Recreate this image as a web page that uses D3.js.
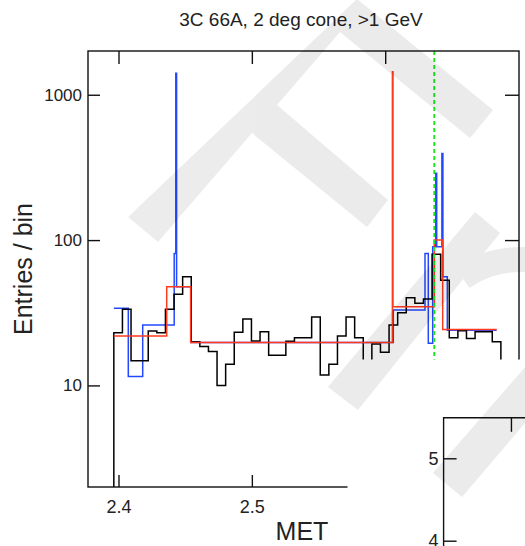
<!DOCTYPE html>
<html>
<head>
<meta charset="utf-8">
<script src="https://cdn.jsdelivr.net/npm/d3@7/dist/d3.min.js"></script>
<style>
  html, body { margin: 0; padding: 0; background: #fff; }
  svg { display: block; }
  text { font-family: "Liberation Sans", Arial, Helvetica, sans-serif; fill: #222; }
</style>
</head>
<body>
<svg id="chart" width="525" height="546"></svg>
<script>
// ---- data ------------------------------------------------------------
// Uniform MET binning of the counts histogram (black)
const binStart = 2.3965;
const binWidth = 0.00645;
const counts = [23.0, 33.4, 14.8, 14.8, 23.7, 23.0, 33.4, 42.4, 56, 20.0,
                18.5, 17.1, 10.0, 14.0, 23.2, 28.6, 20.2, 23.4, 16.1, 16.1,
                20.1, 21.3, 21.3, 29.6, 11.8, 14.0, 21.9, 29.6, 21.3, 11,
                19.3, 16.9, 26.0, 31.6, 40.1, 36.7, 39.3, 80, 53, 21.3,
                23.8, 21.0, 23.4, 23.4, 20.0];

// Block representation (blue): block edges in MET and level per block
const blueEdges = [2.3965, 2.40735, 2.41815, 2.44177, 2.44297, 2.44357, 2.45414,
                   2.60607, 2.62985, 2.63232, 2.63562, 2.63787, 2.63862, 2.64252,
                   2.64327, 2.64657, 2.68361];
const blueValues = [33.9, 11.5, 26.0, 81, 1405, 47.8, 19.7, 33.0, 81, 19.5,
                    90, 288, 90, 395, 56, 24.0];

// Block representation (red)
const redEdges = [2.3965, 2.43615, 2.45414, 2.60540, 2.60585, 2.63682, 2.64312, 2.68361];
const redValues = [21.9, 47.8, 19.7, 1440, 34.8, 100, 24.3];

// Reference time marker (green dashed)
const markerMET = 2.6368;

// Axis ticks
const xTicks = [2.4, 2.5, 2.6];
const yTicks = [10, 100, 1000];
const insetYTicks = [4, 5];
const insetXTicks = [0];

const titleText = "3C 66A, 2 deg cone, >1 GeV";
const xLabel = "MET";
const yLabel = "Entries / bin";

// ---- layout ----------------------------------------------------------
const svg = d3.select("#chart");
const frame = { left: 88, top: 51, right: 519, bottom: 487 };

const x = d3.scaleLinear().domain([2.37713, 2.70034]).range([frame.left, frame.right]);
const y = d3.scaleLog().domain([2, 2000]).range([frame.bottom, frame.top]);
const yFloor = y.domain()[0];

const FONT = '"Liberation Sans", Arial, Helvetica, sans-serif';
const stepLine = d3.line().x(d => x(d[0])).y(d => y(d[1])).curve(d3.curveStepAfter);

function blockPoints(edges, values) {
  const pts = values.map((v, i) => [edges[i], v]);
  pts.push([edges[edges.length - 1], values[values.length - 1]]);
  return pts;
}
function histPoints(start, width, vals) {
  const pts = [[start, yFloor]];
  vals.forEach((v, i) => pts.push([start + i * width, v]));
  const end = start + vals.length * width;
  pts.push([end, vals[vals.length - 1]]);
  pts.push([end, yFloor]);
  return pts;
}

const plot = svg.append("g");

plot.append("path")
  .attr("d", stepLine(blockPoints(blueEdges, blueValues)))
  .attr("fill", "none").attr("stroke", "#2448ff").attr("stroke-width", 1.5);

plot.append("path")
  .attr("d", stepLine(histPoints(binStart, binWidth, counts)))
  .attr("fill", "none").attr("stroke", "#000").attr("stroke-width", 1.5);

plot.append("path")
  .attr("d", stepLine(blockPoints(redEdges, redValues)))
  .attr("fill", "none").attr("stroke", "#ff3a1e").attr("stroke-width", 1.5);

plot.append("line")
  .attr("x1", x(markerMET)).attr("x2", x(markerMET))
  .attr("y1", frame.top).attr("y2", frame.bottom)
  .attr("stroke", "#1ee61e").attr("stroke-width", 1.9)
  .attr("stroke-dasharray", "4,3");

// frame
plot.append("rect")
  .attr("x", frame.left).attr("y", frame.top)
  .attr("width", frame.right - frame.left).attr("height", frame.bottom - frame.top)
  .attr("fill", "none").attr("stroke", "#111").attr("stroke-width", 1.4);

function styleAxis(g, size) {
  g.select(".domain").remove();
  g.selectAll(".tick line").attr("stroke", "#111").attr("stroke-width", 1.4);
  g.selectAll("text").attr("font-family", FONT).attr("font-size", size).attr("fill", "#222");
  g.attr("font-family", null).attr("font-size", null);
}

plot.append("g")
  .attr("transform", `translate(${frame.left},0)`)
  .call(d3.axisLeft(y).tickValues(yTicks).tickSize(-12).tickPadding(6).tickFormat(d3.format("d")))
  .call(g => styleAxis(g, 17));

plot.append("g")
  .attr("transform", `translate(${frame.right},0)`)
  .call(d3.axisRight(y).tickValues(yTicks).tickSize(-14).tickFormat(""))
  .call(g => styleAxis(g, 17));

plot.append("g")
  .attr("transform", `translate(0,${frame.bottom})`)
  .call(d3.axisBottom(x).tickValues(xTicks).tickSize(-12).tickPadding(13).tickFormat(d3.format(".1f")))
  .call(g => styleAxis(g, 18));

plot.append("g")
  .attr("transform", `translate(0,${frame.top})`)
  .call(d3.axisTop(x).tickValues(xTicks).tickSize(-13).tickFormat(""))
  .call(g => styleAxis(g, 18));

// titles
svg.append("text")
  .attr("x", 301).attr("y", 26).attr("text-anchor", "middle")
  .attr("font-size", 19).text(titleText);

svg.append("text")
  .attr("x", 302).attr("y", 540).attr("text-anchor", "middle")
  .attr("font-size", 25).text(xLabel);

svg.append("text")
  .attr("transform", "translate(31.5,269) rotate(-90)")
  .attr("text-anchor", "middle")
  .attr("font-size", 25).text(yLabel);

// ---- overlapping lower-right panel -----------------------------------
svg.append("rect")
  .attr("x", 347.5).attr("y", 359.5).attr("width", 200).attr("height", 200)
  .attr("fill", "#fff");

const inset = { left: 443.6, top: 417.8 };
const insetY = d3.scaleLinear().domain([4, 5.5]).range([540.7, 417.1]);
const insetX = d3.scaleLinear().domain([-0.5, 2.7]).range([inset.left, inset.left + 431]);

const insetG = svg.append("g");
insetG.append("path")
  .attr("d", `M${inset.left},560V${inset.top}H540`)
  .attr("fill", "none").attr("stroke", "#111").attr("stroke-width", 1.4);

insetG.append("g")
  .attr("transform", `translate(${inset.left},0)`)
  .call(d3.axisLeft(insetY).tickValues(insetYTicks).tickSize(-13).tickPadding(5).tickFormat(d3.format("d")))
  .call(g => styleAxis(g, 18));

insetG.append("g")
  .attr("transform", `translate(0,${inset.top})`)
  .call(d3.axisTop(insetX).tickValues(insetXTicks).tickSize(-14).tickFormat(""))
  .call(g => styleAxis(g, 18));

// ---- light watermark over the page ------------------------------------
const wm = svg.append("g").attr("opacity", 0.075).attr("fill", "#000");
wm.append("path").attr("d",
  "M128,217 L357,-1 L493,110 L470,138 L340,32 L277,105 L388,200 L367,227 L252,133 L158,242 Z" +
  "M328,387 L475,212 L500,233 L358,410 Z" +
  "M433,473 L560,327 L560,382 L462,497 Z");
wm.append("path")
  .attr("transform", "translate(520,360)")
  .attr("d", d3.arc()({ innerRadius: 88, outerRadius: 113,
                        startAngle: -35 * Math.PI / 180, endAngle: 40 * Math.PI / 180 }));
</script>
</body>
</html>
